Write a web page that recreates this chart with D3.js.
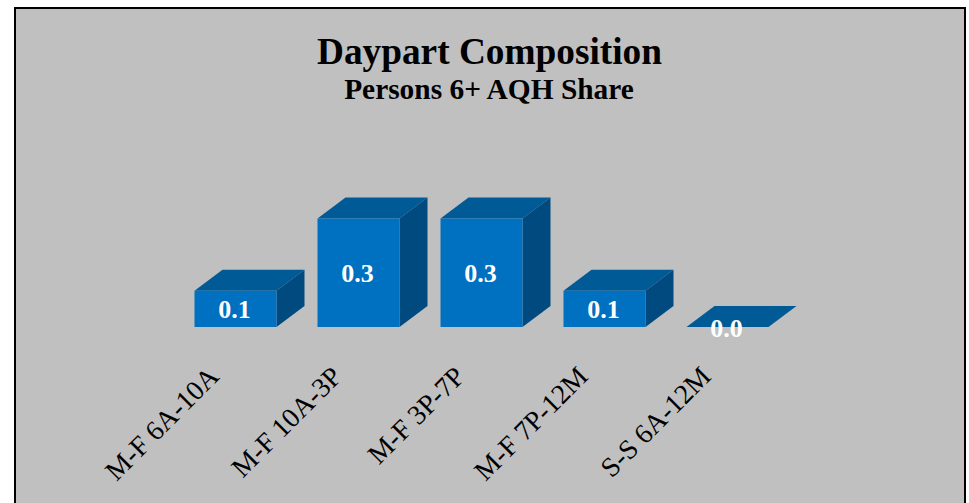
<!doctype html>
<html>
<head>
<style>
    html, body { margin: 0; padding: 0; background: #fff; }
    svg { display: block; }
    text { font-family: "Liberation Serif", serif; }
    .domain { display: none; }
</style>
<script src="https://d3js.org/d3.v7.min.js"></script>
</head>
<body>
<svg width="969" height="503"></svg>
<script>
    var categories = ["M-F 6A-10A", "M-F 10A-3P", "M-F 3P-7P", "M-F 7P-12M", "S-S 6A-12M"];
    var shares = [0.1, 0.3, 0.3, 0.1, 0.0];
    var title = "Daypart Composition";
    var subtitle = "Persons 6+ AQH Share";

    var svg = d3.select("svg");

    // panel
    svg.append("rect")
       .attr("x", 15).attr("y", 8)
       .attr("width", 950).attr("height", 510)
       .attr("fill", "#c0c0c0")
       .attr("stroke", "#000")
       .attr("stroke-width", 2);

    svg.append("text")
       .attr("x", 489.5).attr("y", 63.5)
       .attr("text-anchor", "middle")
       .attr("font-size", "37.3px").attr("font-weight", "bold")
       .text(title);

    svg.append("text")
       .attr("x", 489).attr("y", 98.5)
       .attr("text-anchor", "middle")
       .attr("font-size", "29.4px").attr("font-weight", "bold")
       .text(subtitle);

    var baseY = 327, depthX = 28, depthY = 21;

    var xScale = d3.scaleBand().domain(categories).range([194.5, 768.5]).paddingInner(1 / 3),
        yScale = d3.scaleLinear().domain([0, 0.3]).range([baseY, 218.5]);

    var bars = svg.selectAll(".bar")
        .data(categories)
        .enter().append("g")
        .attr("class", "bar");

    function barLeft(d) { return xScale(d); }
    function barRight(d) { return xScale(d) + xScale.bandwidth(); }
    function barTop(d, i) { return yScale(shares[i]); }

    // top face
    bars.append("path")
        .attr("fill", "#005a96")
        .attr("d", function(d, i) {
            var y = barTop(d, i);
            return "M" + barLeft(d) + "," + y + "L" + (barLeft(d) + depthX) + "," + (y - depthY) +
                   "L" + (barRight(d) + depthX) + "," + (y - depthY) + "L" + barRight(d) + "," + y + "Z";
        });

    // side face
    bars.append("path")
        .attr("fill", "#004a80")
        .attr("d", function(d, i) {
            var y = barTop(d, i);
            return "M" + barRight(d) + "," + y + "L" + (barRight(d) + depthX) + "," + (y - depthY) +
                   "L" + (barRight(d) + depthX) + "," + (baseY - depthY) + "L" + barRight(d) + "," + baseY + "Z";
        });

    // front face
    bars.append("rect")
        .attr("fill", "#0070c0")
        .attr("x", barLeft)
        .attr("y", barTop)
        .attr("width", xScale.bandwidth())
        .attr("height", function(d, i) { return baseY - barTop(d, i); });

    bars.append("text")
        .attr("x", function(d) { return barLeft(d) + xScale.bandwidth() / 2 - 1; })
        .attr("y", function(d, i) { return (barTop(d, i) + baseY) / 2 + 9.5; })
        .attr("text-anchor", "middle")
        .attr("font-size", "26px").attr("font-weight", "bold")
        .attr("fill", "#fff")
        .text(function(d, i) { return shares[i].toFixed(1); });

    var axis = svg.append("g")
        .attr("transform", "translate(0," + baseY + ")")
        .call(d3.axisBottom(xScale).tickSize(0));

    axis.selectAll("text")
        .attr("font-size", "27.7px")
        .attr("font-family", "Liberation Serif")
        .attr("fill", "#000")
        .attr("text-anchor", "end")
        .attr("x", 0).attr("y", 0).attr("dy", "0")
        .attr("transform", "translate(-15,51) rotate(-45)");
</script>
</body>
</html>
